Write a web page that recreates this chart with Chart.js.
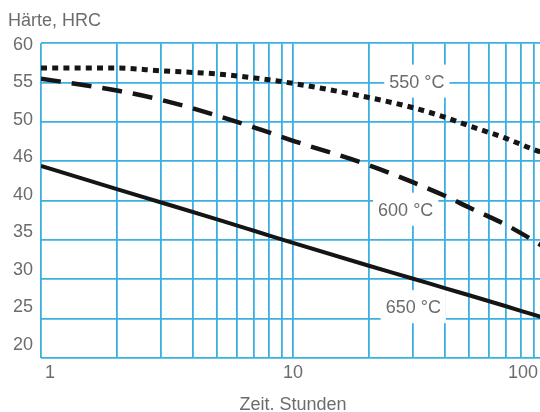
<!DOCTYPE html>
<html>
<head>
<meta charset="utf-8">
<script src="https://cdn.jsdelivr.net/npm/chart.js@4"></script>
<style>
  html, body { margin: 0; padding: 0; background: #fff; overflow: hidden; }
  #wrap { width: 540px; height: 412px; position: relative; }
</style>
</head>
<body>
<div id="wrap"><canvas id="c" width="540" height="412"></canvas></div>
<script>
// Tempering time (hours) and hardness (HRC) for three temperatures
const hours       = [1, 2, 3, 5, 7, 10, 20, 30, 40, 50, 70, 90, 100];
const hardness550 = [56.85, 56.85, 56.5, 56.1, 55.6, 54.9, 53.1, 51.8, 50.6, 49.5, 47.9, 46.5, 46.0];
const hardness600 = [55.5, 54.0, 52.8, 50.8, 49.3, 47.6, 44.5, 42.3, 40.6, 39.1, 36.9, 34.9, 34.0];
const hardness650 = [44.4, 41.45, 39.75, 37.6, 36.15, 34.6, 31.7, 30.05, 28.85, 27.95, 26.55, 25.47, 25.03];
const seriesNames = ['550 °C', '600 °C', '650 °C'];

// Axis grid and tick labels
const xGridValues = [1, 2, 3, 4, 5, 6, 7, 8, 9, 10, 20, 30, 40, 50, 60, 70, 80, 90];
const xTickValues = [1, 10, 100];
const yGridValues = [20, 25, 30, 35, 40, 45, 50, 55, 60];
const yTickLabels = ['20', '25', '30', '35', '40', '46', '50', '55', '60'];

const FONT = '"Liberation Sans", Arial, sans-serif';
const TEXT = '#6c6c6c';
const GRID = '#3cb0e2';
const INK = '#151515';

// Where the temperature tags sit, in data units
const tagAnchors = [
  { x: 31, y: 55.0 },
  { x: 28, y: 38.7 },
  { x: 30, y: 26.3 }
];

const pts = vals => hours.map((h, i) => ({ x: h, y: vals[i] }));

const textPlugin = {
  id: 'texts',
  beforeDatasetsDraw(chart) {
    const ctx = chart.ctx, xs = chart.scales.x, ys = chart.scales.y;
    ctx.save();
    ctx.font = '18px ' + FONT;
    tagAnchors.forEach((a, i) => {
      const px = xs.getPixelForValue(a.x), py = ys.getPixelForValue(a.y);
      const w = ctx.measureText(seriesNames[i]).width;
      ctx.fillStyle = '#ffffff';
      ctx.fillRect(px - w / 2 - 5, py - 18, w + 10, 33);
      ctx.fillStyle = TEXT;
      ctx.textAlign = 'center';
      ctx.textBaseline = 'middle';
      ctx.fillText(seriesNames[i], px, py);
    });
    ctx.restore();
  },
  afterDraw(chart) {
    const ctx = chart.ctx, xs = chart.scales.x, area = chart.chartArea;
    ctx.save();
    ctx.font = '18px ' + FONT;
    ctx.fillStyle = TEXT;
    ctx.textBaseline = 'middle';
    // x tick labels, kept inside the plot width
    ctx.textAlign = 'left';
    xTickValues.forEach(v => {
      const label = String(v);
      const w = ctx.measureText(label).width;
      let left = xs.getPixelForValue(v) - w / 2;
      left = Math.max(area.left + 4, Math.min(area.right - 2 - w, left));
      ctx.fillText(label, left, 373);
    });
    // axis titles
    ctx.fillText('Härte, HRC', 8, 21);
    ctx.textAlign = 'center';
    ctx.fillText('Zeit. Stunden', 293, 405);
    ctx.restore();
  }
};

new Chart(document.getElementById('c'), {
  type: 'line',
  data: {
    datasets: [
      { label: seriesNames[0], data: pts(hardness550), borderColor: INK, borderWidth: 5,
        borderDash: [6, 5.2], borderCapStyle: 'butt' },
      { label: seriesNames[1], data: pts(hardness600), borderColor: INK, borderWidth: 4.5,
        borderDash: [20, 11], borderCapStyle: 'butt' },
      { label: seriesNames[2], data: pts(hardness650), borderColor: INK, borderWidth: 4 }
    ]
  },
  options: {
    responsive: false,
    animation: false,
    devicePixelRatio: 1,
    layout: { padding: { top: 43.3, bottom: 54.3, left: 0, right: 0 } },
    elements: {
      point: { radius: 0, hoverRadius: 0 },
      line: { tension: 0.4, cubicInterpolationMode: 'monotone', fill: false }
    },
    plugins: { legend: { display: false }, tooltip: { enabled: false }, title: { display: false } },
    scales: {
      x: {
        type: 'logarithmic', position: 'bottom', min: 1, max: 95.5,
        ticks: { display: false },
        grid: { color: GRID, lineWidth: 1.8, drawTicks: false },
        border: { display: false },
        afterBuildTicks: s => { s.ticks = xGridValues.map(v => ({ value: v })); },
        afterFit: s => { s.height = 0; }
      },
      y: {
        type: 'linear', position: 'left', min: 20, max: 60,
        ticks: { display: false },
        grid: { color: GRID, lineWidth: 1.8, drawTicks: false },
        border: { display: false },
        afterBuildTicks: s => { s.ticks = yGridValues.map(v => ({ value: v })); },
        afterFit: s => { s.width = 0; }
      },
      yl: {
        type: 'linear', position: 'left', min: 18.31, max: 60.23,
        grid: { display: false, drawTicks: false },
        border: { display: false },
        ticks: {
          autoSkip: false, padding: 8, color: TEXT,
          font: { family: FONT, size: 18 },
          callback: v => yTickLabels[yGridValues.indexOf(v)]
        },
        afterBuildTicks: s => { s.ticks = yGridValues.map(v => ({ value: v })); },
        afterFit: s => { s.width = 41; }
      }
    }
  },
  plugins: [textPlugin]
});
</script>
</body>
</html>
